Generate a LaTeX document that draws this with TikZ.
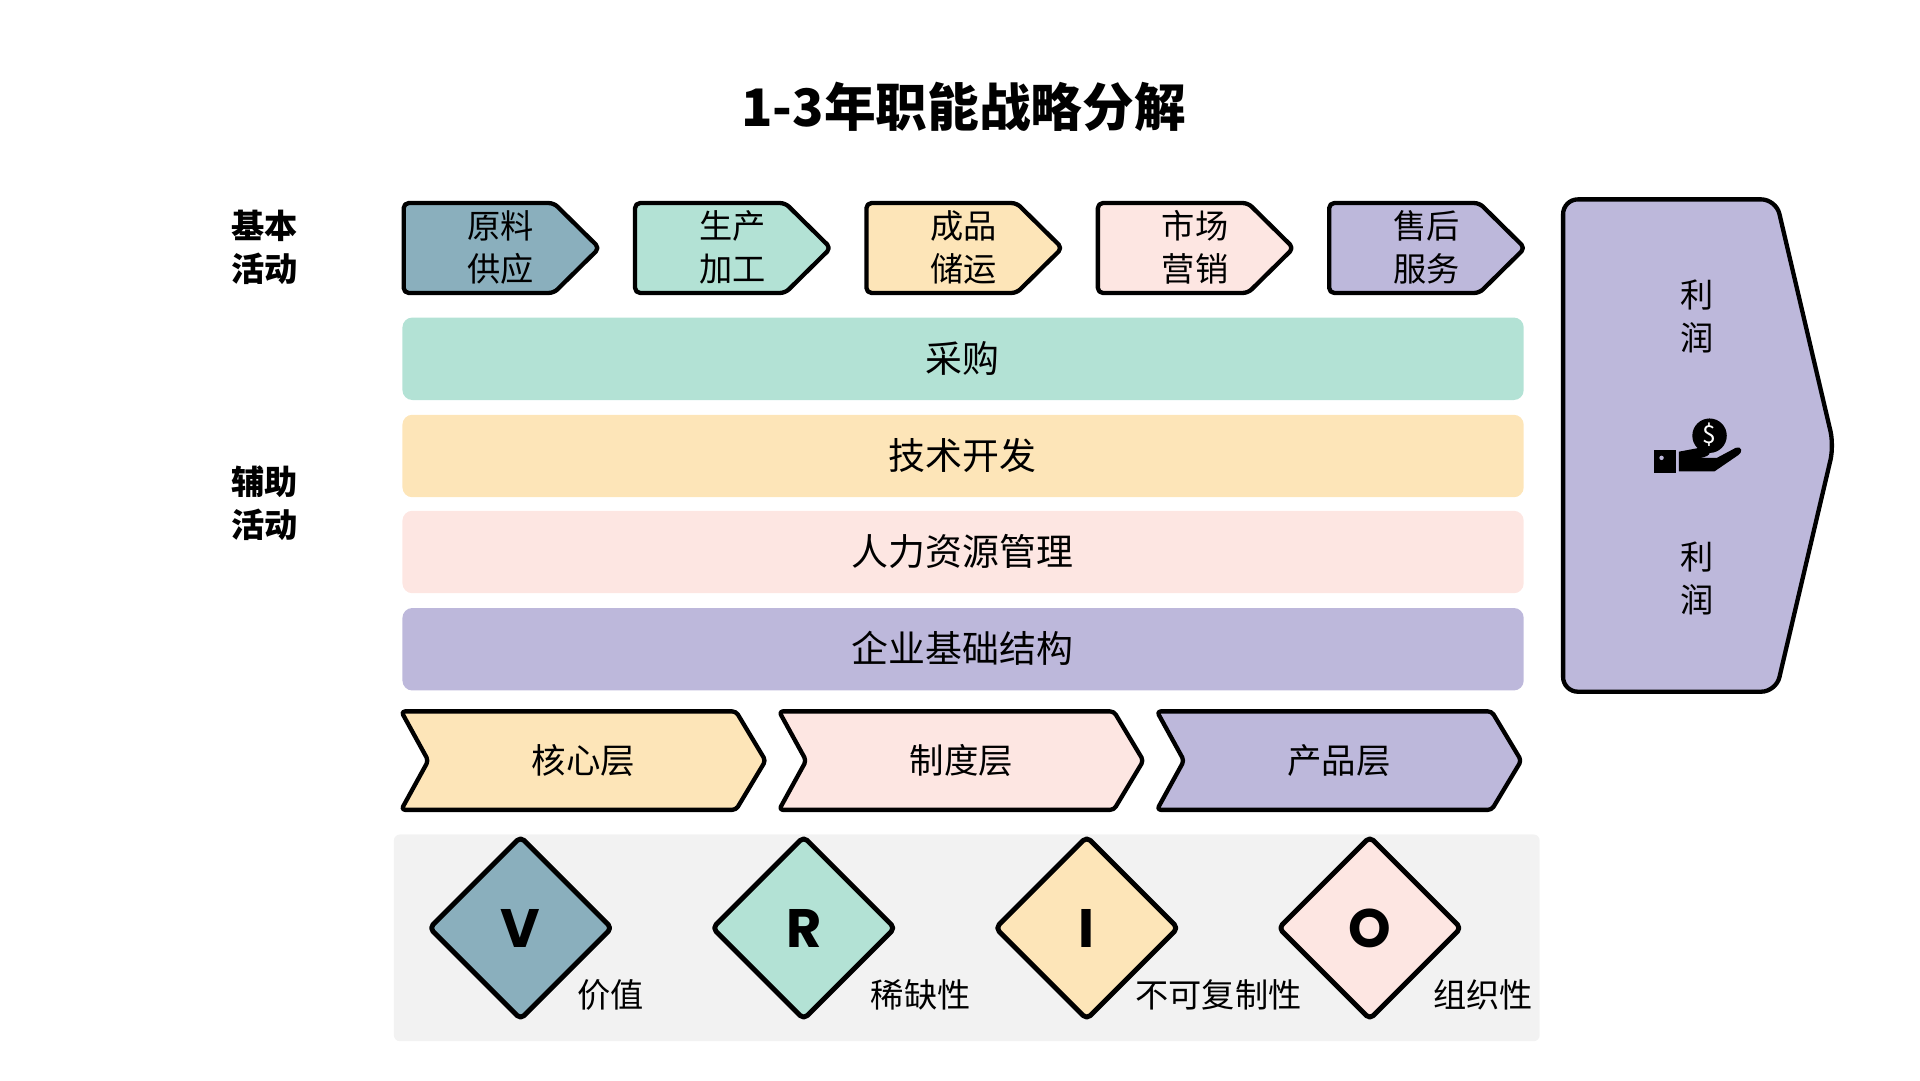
\documentclass[tikz,border=0pt]{standalone}
\usepackage{fontspec}
\setmainfont{Noto Sans CJK SC}
\newfontfamily\lat{Poppins}
\begin{document}
\begin{tikzpicture}[x=1pt,y=-1pt,
 ln/.style={draw=black,line width=3.5pt,line join=round},
 lab/.style={font=\fontsize{27}{31}\selectfont,align=center,inner sep=0pt},
 dia/.style={ln,line width=4pt}]
\definecolor{colB}{HTML}{8AAFBD}\definecolor{colM}{HTML}{B3E2D5}\definecolor{colP}{HTML}{FDE5B8}
\definecolor{colK}{HTML}{FDE6E2}\definecolor{colL}{HTML}{BDB8DB}\definecolor{colG}{HTML}{F2F2F2}
\useasboundingbox (0,0) rectangle (1560,878);
\node[font=\fontsize{42}{46}\selectfont\bfseries] (title) at (783,87) {1-3年职能战略分解};
\node[lab,font=\fontsize{27}{35}\selectfont\bfseries] (l1) at (215,201) {基本\\活动};
\node[lab,font=\fontsize{27}{35}\selectfont\bfseries] (l2) at (215,409) {辅助\\活动};
% top chevrons
\foreach \x/\c/\t [count=\i] in {328/colB/原料\\供应,516/colM/生产\\加工,704/colP/成品\\储运,892/colK/市场\\营销,1080/colL/售后\\服务}{
 \draw[ln,fill=\c,rounded corners=4pt] (\x,165) -- (\x+122,165) -- (\x+159,201.5) -- (\x+122,238) -- (\x,238) -- cycle;
 \node[lab,font=\fontsize{27}{35}\selectfont] (t\i) at (\x+79,201) {\t};}
% bars
\foreach \y/\c/\t [count=\i] in {258/colM/采购,337/colP/技术开发,415/colK/人力资源管理,494/colL/企业基础结构}{
 \fill[fill=\c,rounded corners=8pt] (327,\y) rectangle (1238,\y+67);
 \node[lab,font=\fontsize{30}{34}\selectfont] (b\i) at (782,\y+33) {\t};}
% big arrow
\draw[ln,fill=colL,rounded corners=12pt] (1270,162) -- (1443,162) -- (1490,362) -- (1443,562) -- (1270,562) -- cycle;
\node[lab,font=\fontsize{27}{35}\selectfont] (p1) at (1379,257) {利\\润};
\node[lab,font=\fontsize{27}{35}\selectfont] (p2) at (1379,470) {利\\润};
% icon
\fill (1389,354) circle (14);
\node[white,font=\fontsize{20}{20}\selectfont,inner sep=0pt] (dol) at (1389,353) {\$};
\fill (1344,366) rectangle (1362,384);
\fill[colL] (1350,372) circle (1.8);
\fill (1364,367) -- (1380,364) .. controls (1392,364) and (1392,371) .. (1381,372) -- (1395,372) -- (1410,364) .. controls (1416,362) and (1416,368) .. (1412,370) -- (1393,383) -- (1364,383) -- cycle;
% bottom chevrons
\foreach \x/\c/\t [count=\i] in {326/colP/核心层,633/colK/制度层,940/colL/产品层}{
 \draw[ln,fill=\c,rounded corners=3pt] (\x,578) -- (\x+272,578) -- (\x+296,618) -- (\x+272,658) -- (\x,658) -- (\x+22,618) -- cycle;
 \node[lab,font=\fontsize{28}{32}\selectfont] (c\i) at (\x+148,618) {\t};}
% panel
\fill[colG,rounded corners=5pt] (320,678) rectangle (1251,846);
\foreach \x/\c/\L/\t/\tx [count=\i] in {423/colB/V/价值/496,653/colM/R/稀缺性/748,883/colP/I/不可复制性/990,1113/colK/O/组织性/1205}{
 \draw[dia,fill=\c,rounded corners=4pt] (\x,680) -- (\x+74,754) -- (\x,828) -- (\x-74,754) -- cycle;
 \node[font=\lat\bfseries\fontsize{44}{44}\selectfont,inner sep=0pt] (d\i) at (\x,754) {\L};
 \node[lab,font=\fontsize{27}{31}\selectfont] (e\i) at (\tx,808) {\t};}
\end{tikzpicture}
\end{document}
